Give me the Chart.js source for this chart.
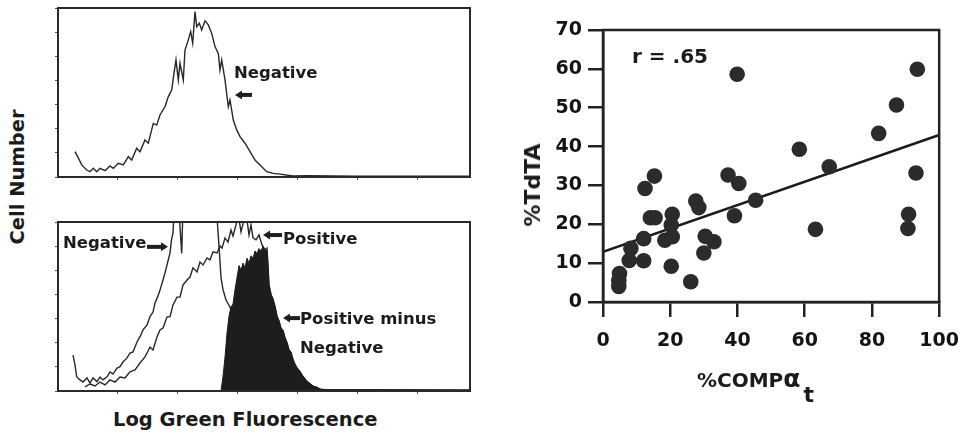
<!DOCTYPE html>
<html>
<head>
<meta charset="utf-8">
<title>Log green fluorescence histograms and %TdTA vs %COMPαt</title>
<script src="https://cdn.jsdelivr.net/npm/chart.js@4.4.1/dist/chart.umd.min.js"></script>
<style>
html,body{margin:0;padding:0;background:#fff;}
#fig{position:relative;width:972px;height:438px;overflow:hidden;background:#fff;font-family:"DejaVu Sans",sans-serif;font-weight:bold;color:#1b1b1b;}
#fig canvas{position:absolute;}
.t{position:absolute;white-space:nowrap;line-height:1;}
.rot{transform:translate(-50%,-50%) rotate(-90deg);}
.sp{line-height:0;}
</style>
</head>
<body>
<div id="fig">
  <canvas id="histTop" width="440" height="192" style="left:40px;top:0px"></canvas>
  <canvas id="histBottom" width="440" height="192" style="left:40px;top:214px"></canvas>
  <canvas id="scatter" width="472" height="438" style="left:500px;top:0px"></canvas>

  <div class="t rot" style="left:18px;top:177px;font-size:19.5px">Cell Number</div>
  <div class="t" style="left:113px;top:410px;font-size:19.5px">Log Green Fluorescence</div>

  <div class="t" style="left:234px;top:65px;font-size:16.5px">Negative</div>
  <div class="t" style="left:63px;top:235px;font-size:16.5px">Negative</div>
  <div class="t" style="left:283px;top:231px;font-size:16.5px">Positive</div>
  <div class="t" style="left:300px;top:311px;font-size:16.5px">Positive minus</div>
  <div class="t" style="left:300px;top:340px;font-size:16.5px">Negative</div>

  <div class="t rot" style="left:533px;top:185px;font-size:22px">%TdTA</div>
  <div class="t" style="left:697px;top:370px;font-size:20px">%COMP<span class="sp" style="font-size:25px">α</span><span class="sp" style="font-size:22px;position:relative;top:15px;left:3px">t</span></div>
  <div class="t" style="left:632px;top:46px;font-size:20px">r = .65</div>
</div>

<script>
// ---------- Data ----------
// Upper histogram: Negative control (log green fluorescence channel vs cell number)
const topNegChannel = [17,20.3,23.7,28.7,32,35.3,38.7,42,47,52,55.3,60.3,65.3,70.3,73.7,78.7,82,87,90.3,95.3,98.7,102,107,110.3,113.7,116,118,120.3,122,125.3,127,130.3,132.7,134.7,137,138.7,141.3,143.7,147,150.3,153.7,157,160.3,162,163.7,167,170.3,172,175.3,178.7,182,187,192,197,202,208.7,215.3,222,235,250,300,412];
const topNegCount   = [10.5,7.9,5.0,2.9,2.2,3.6,2.2,3.6,2.6,4.6,3.6,5.7,5.0,8.4,7.0,11.9,10.5,15.3,14.0,22.2,21.5,25.7,29.1,33.3,36.0,43.0,48.5,40.2,47.1,40.2,52.6,56.8,60.2,55.4,68.5,62.3,63.7,60.9,64.7,63.0,59.5,54.0,51.2,44.3,48.5,40.2,29.1,31.9,23.6,19.5,16.7,14.0,10.5,7.0,5.0,2.2,1.5,1.2,0.4,0.5,0.3,0.3];

// Lower histogram: Negative, Positive, Positive minus Negative
const botNegChannel = [15,17,18.7,22,25,29,32,35,39,42,45,49,52,55,59,62,65,69,72,75,79,82,85,89,92,95,97,100,102,105,107,109,112,113.5,115,116,118,120.3,122,123.7,125.3,128,135,145,152,157,159,161,163,165,168,172,177,182,190,197,207,217,232,260,412];
const botNegCount   = [14.9,10.8,5.9,4.6,3.7,5.4,3.3,5.4,3.9,5.8,4.6,5.9,7.9,7.0,9.5,10.1,12.0,13.7,15.7,16.2,20.3,22.5,25.3,27.3,30.8,32.7,36.5,39.4,41.8,46.0,48.9,52.2,57.2,62.6,65.5,74,80,82,68,57,80,84,88,86,84,80,72,60,47,42,37.7,34.8,28,22,14,8,4,2,1,0.5,0.3];

const botPosChannel = [27,32,37,42,47,52,57,62,67,72,77,82,87,92,95,99,102,105,109,112,115,119,122,125,129,132,135,139,142,145,149,152,155,159,162,164,167,170,173,175,178,180,183,185,188,191,193,195,198,201,204,207,209,210,211,213,215,217,219,221,223,225,227,229,231,233,235,237,239,242,245,249,252,255,259,262,267,412];
const botPosCount   = [1.7,2.9,2.1,3.7,2.5,4.6,3.7,5.8,5.4,7.9,8.7,11.6,14.1,18.2,17.0,22.4,25.3,26.1,30.7,30.7,35.6,38.9,38.9,43.9,46.0,47.2,51.0,49.3,53.4,52.2,55.1,54.3,57.6,57.2,60.1,59.2,63.4,61.7,66.7,64.2,68.8,74,65.9,69.2,74,64.6,68.8,63.4,62.6,64.6,60.5,58.4,59.2,52,44,40,38,35,31,29,26,25,22,20,17,16,13,11,9.5,8,6,4,3,2,1.5,0.8,0.5,0.3];

const botDiffChannel = [0,163,165,167,169,171,173,175,177,179,181,183,185,187,189,191,193,195,197,199,201,203,205,207,209,210,211,213,215,217,219,221,223,225,227,229,231,233,235,237,239,242,245,249,252,255,259,262,267,412];
const botDiffCount   = [0,0,6,14,24,31,34.8,36,42,47,52,50,53,51,55,53,56,55,58,57,59,58,60,58.4,58,52,44,40,38,35,31,29,26,25,22,20,17,16,13,11,9.5,8,6,4,3,2,1.5,0.8,0.5,0.3];

const fluorTicks = [59,119,179,239,299,359];

// Scatter: %COMP alpha t (x) vs %TdTA (y)
const compAlphaT = [39.9,93.5,87.3,82.0,58.4,67.3,93.1,90.9,90.7,63.2,45.4,39.1,37.2,40.4,27.6,28.5,15.3,12.5,14.1,15.5,20.6,20.3,18.4,20.6,12.1,8.3,7.8,12.1,20.3,26.1,30.4,33.0,30.0,4.9,4.7,4.7];
const tdta       = [58.6,59.9,50.7,43.4,39.3,34.8,33.2,22.6,18.9,18.7,26.2,22.2,32.7,30.5,26.0,24.3,32.4,29.2,21.7,21.7,22.6,19.8,15.9,16.8,16.3,13.8,10.7,10.6,9.2,5.2,16.9,15.5,12.6,7.3,5.5,4.0];
const fitLineX = [0,100];
const fitLineY = [12.9,43.0];
const compTicks = [0,20,40,60,80,100];
const tdtaTicks = [0,10,20,30,40,50,60,70];

// ---------- Rendering ----------
Chart.defaults.font.family = '"DejaVu Sans", sans-serif';
const toXY = (xs, ys) => xs.map((x, i) => ({x, y: ys[i]}));
const INK = '#1f1f1f';

function makeFrame(cfg) {
  return {
    id: 'frame',
    afterDatasetsDraw(chart) {
      const {ctx, chartArea: a, scales} = chart;
      const sx = scales.x, sy = scales.y;
      ctx.save();
      ctx.strokeStyle = cfg.color;
      ctx.lineWidth = cfg.width;
      ctx.strokeRect(a.left, a.top, a.right - a.left, a.bottom - a.top);
      ctx.fillStyle = INK;
      ctx.strokeStyle = INK;
      (cfg.arrows || []).forEach(ar => {
        const x1 = sx.getPixelForValue(ar.from[0]), y1 = sy.getPixelForValue(ar.from[1]);
        const x2 = sx.getPixelForValue(ar.to[0]), y2 = sy.getPixelForValue(ar.to[1]);
        const ang = Math.atan2(y2 - y1, x2 - x1), c = Math.cos(ang), s = Math.sin(ang);
        const head = 7, hw = 4.5;
        const bx = x2 - head * c, by = y2 - head * s;
        ctx.lineWidth = 4;
        ctx.beginPath(); ctx.moveTo(x1, y1); ctx.lineTo(bx + c, by + s); ctx.stroke();
        ctx.beginPath(); ctx.moveTo(x2, y2);
        ctx.lineTo(bx - hw * s, by + hw * c);
        ctx.lineTo(bx + hw * s, by - hw * c);
        ctx.closePath(); ctx.fill();
      });
      ctx.restore();
    }
  };
}

function histScales() {
  const grid = {drawOnChartArea: false, drawTicks: true, tickLength: 3, tickWidth: 1, tickColor: '#555'};
  return {
    x: {type: 'linear', min: 0, max: 412, border: {display: false}, grid,
        ticks: {display: false},
        afterBuildTicks: s => { s.ticks = fluorTicks.map(v => ({value: v})); },
        afterFit: s => { s.height = 6; }},
    y: {type: 'linear', min: 0, max: 70, border: {display: false}, grid,
        ticks: {display: false, stepSize: 10},
        afterFit: s => { s.width = 8; }}
  };
}

const histCommon = {
  type: 'line',
  options: {
    responsive: false, animation: false, devicePixelRatio: 1,
    layout: {padding: {left: 10, right: 10, top: 8, bottom: 9}},
    plugins: {legend: {display: false}, tooltip: {enabled: false}},
    elements: {point: {radius: 0}, line: {tension: 0}}
  }
};

const lineDs = (label, xs, ys) => ({label, data: toXY(xs, ys), borderColor: '#272727', borderWidth: 1.4, pointRadius: 0, fill: false});

new Chart(document.getElementById('histTop'), {
  ...histCommon,
  data: {datasets: [lineDs('Negative', topNegChannel, topNegCount)]},
  options: {...histCommon.options, scales: histScales()},
  plugins: [makeFrame({color: '#2a2a2a', width: 2, arrows: [{from: [194, 34], to: [177, 34]}]})]
});

new Chart(document.getElementById('histBottom'), {
  ...histCommon,
  data: {datasets: [
    {label: 'Positive minus Negative', data: toXY(botDiffChannel, botDiffCount), borderColor: '#1c1d1c', backgroundColor: '#1c1d1c', borderWidth: 1, pointRadius: 0, fill: 'origin'},
    lineDs('Positive', botPosChannel, botPosCount),
    lineDs('Negative', botNegChannel, botNegCount)
  ]},
  options: {...histCommon.options, scales: histScales()},
  plugins: [makeFrame({color: '#2a2a2a', width: 2, arrows: [
    {from: [89, 59.7], to: [110, 59.7]},
    {from: [224, 64.6], to: [205, 64.6]},
    {from: [242, 30.2], to: [225, 30.2]}
  ]})]
});

const axisGrid = {drawOnChartArea: false, drawTicks: true, tickLength: 15, tickWidth: 2.5, tickColor: '#222', lineWidth: 2.5};
const tickFont = {size: 19, weight: 'bold', family: '"DejaVu Sans", sans-serif'};

new Chart(document.getElementById('scatter'), {
  type: 'scatter',
  data: {datasets: [
    {label: '%TdTA', data: toXY(compAlphaT, tdta), backgroundColor: '#2a2c2a', borderColor: '#2a2c2a', borderWidth: 0, pointRadius: 7.8, pointHoverRadius: 7.8},
    {label: 'fit', type: 'line', data: toXY(fitLineX, fitLineY), borderColor: '#1c1c1c', borderWidth: 2.6, pointRadius: 0, fill: false}
  ]},
  options: {
    responsive: false, animation: false, devicePixelRatio: 1,
    layout: {padding: {left: 0, right: 23, top: 30, bottom: 76}},
    plugins: {legend: {display: false}, tooltip: {enabled: false}},
    scales: {
      x: {type: 'linear', min: 0, max: 100, grid: axisGrid,
          border: {display: true, width: 2.5, color: '#222'},
          ticks: {padding: 13, color: '#141414', font: tickFont, maxRotation: 0},
          afterBuildTicks: s => { s.ticks = compTicks.map(v => ({value: v})); },
          afterFit: s => { s.height = 60; }},
      y: {type: 'linear', min: 0, max: 70, grid: axisGrid,
          border: {display: true, width: 2.5, color: '#222'},
          ticks: {padding: 6, color: '#141414', font: tickFont},
          afterBuildTicks: s => { s.ticks = tdtaTicks.map(v => ({value: v})); },
          afterFit: s => { s.width = 103; }}
    }
  },
  plugins: [makeFrame({color: '#222', width: 2.5, arrows: []})]
});
</script>
</body>
</html>
